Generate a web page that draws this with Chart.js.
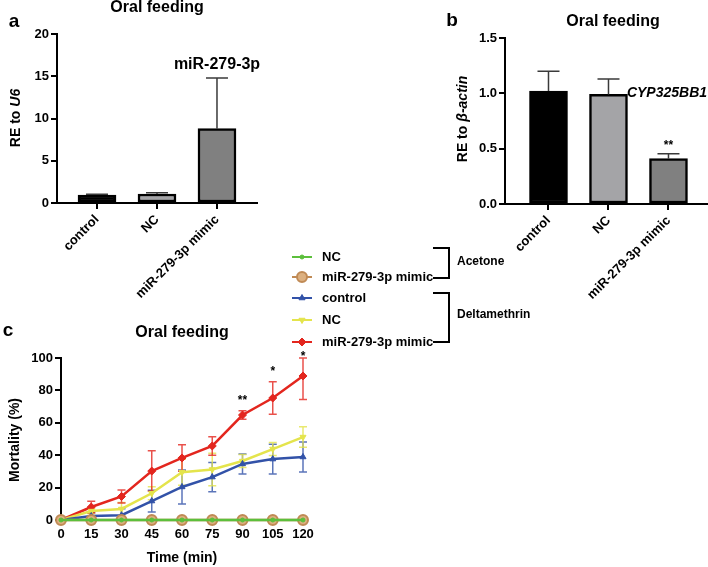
<!DOCTYPE html>
<html>
<head>
<meta charset="utf-8">
<script src="https://cdn.jsdelivr.net/npm/chart.js@4"></script>
<style>
  html, body { margin: 0; padding: 0; background: #fff; }
  #wrap { position: relative; width: 708px; height: 567px; }
  #wrap canvas { position: absolute; left: 0; top: 0; pointer-events: none; }
</style>
</head>
<body>
<div id="wrap">
  <canvas id="chartA" width="708" height="567"></canvas>
  <canvas id="chartB" width="708" height="567"></canvas>
  <canvas id="chartC" width="708" height="567"></canvas>
</div>
<script>
// ---- data ----
const groups = ['control', 'NC', 'miR-279-3p mimic'];
const barColors = ['#000000', '#a4a4a7', '#808080'];

// panel a: miR-279-3p, RE to U6
const valuesA = [0.95, 1.07, 8.8];
const errA = [0.1, 0.15, 6.0];

// panel b: CYP325BB1, RE to beta-actin
const valuesB = [1.02, 0.99, 0.41];
const errB = [0.18, 0.14, 0.045];
const sigB = ['', '', '**'];

// panel c: mortality over time
const times = [0, 15, 30, 45, 60, 75, 90, 105, 120];
const acetoneNC = [0, 0, 0, 0, 0, 0, 0, 0, 0];
const acetoneMimic = [0, 0, 0, 0, 0, 0, 0, 0, 0];
const deltaControl = [0, 2.5, 3, 11.7, 20.4, 26.5, 34.6, 37.6, 38.9];
const deltaControlErr = [0, 2, 4, 6.7, 10.5, 9, 6.2, 9.2, 9.3];
const deltaNC = [0, 5.5, 6.8, 16.5, 29.5, 31.2, 36.4, 43.8, 51.2];
const deltaNCErr = [0, 1.5, 4, 4, 8, 10, 4, 4, 6.3];
const deltaMimic = [0, 8, 14.5, 30.2, 38.3, 45.7, 64.8, 75.3, 88.9];
const deltaMimicErr = [0, 3.5, 4, 12.5, 8.2, 5.7, 2.6, 10, 14.5];
const sigTimes = [90, 105, 120];
const sigLabels = ['**', '*', '*'];
const sigLevel = [73.5, 91.4, 101];

const FONT = '"Liberation Sans", Arial, sans-serif';

// draw a line of text made of parts (some italic), centred at x,y, optionally rotated
function richText(ctx, parts, x, y, size, rot, align) {
  ctx.save();
  ctx.translate(x, y);
  if (rot) ctx.rotate(rot);
  ctx.textBaseline = 'middle';
  ctx.fillStyle = '#000';
  let total = 0;
  const widths = parts.map(p => {
    ctx.font = (p.italic ? 'italic ' : '') + 'bold ' + size + 'px ' + FONT;
    const w = ctx.measureText(p.t).width;
    total += w;
    return w;
  });
  let cx = align === 'left' ? 0 : -total / 2;
  parts.forEach((p, i) => {
    ctx.font = (p.italic ? 'italic ' : '') + 'bold ' + size + 'px ' + FONT;
    ctx.textAlign = 'left';
    ctx.fillText(p.t, cx, 0);
    cx += widths[i];
  });
  ctx.restore();
}

// texts plugin: options.plugins.texts = [{parts, x, y, size, rot, align}]
const textsPlugin = {
  id: 'texts',
  afterDraw(chart, args, opts) {
    (opts.items || []).forEach(it => {
      richText(chart.ctx, it.parts, it.x, it.y, it.size, it.rot || 0, it.align);
    });
  }
};

// upward error bars for bar charts
const barErrPlugin = {
  id: 'barErr',
  afterDatasetsDraw(chart, args, opts) {
    if (!opts.err) return;
    const ctx = chart.ctx;
    const ys = chart.scales.y;
    const meta = chart.getDatasetMeta(0);
    ctx.save();
    ctx.strokeStyle = '#3a3a3a';
    ctx.lineWidth = 1.5;
    meta.data.forEach((bar, i) => {
      const v = chart.data.datasets[0].data[i].y;
      const top = ys.getPixelForValue(v + opts.err[i]);
      ctx.beginPath();
      ctx.moveTo(bar.x, bar.y);
      ctx.lineTo(bar.x, top);
      ctx.moveTo(bar.x - 11, top);
      ctx.lineTo(bar.x + 11, top);
      ctx.stroke();
      if (opts.sig && opts.sig[i]) {
        ctx.fillStyle = '#000';
        ctx.font = 'bold 12px ' + FONT;
        ctx.textAlign = 'center';
        ctx.textBaseline = 'middle';
        ctx.fillText(opts.sig[i], bar.x, top - 8);
      }
    });
    ctx.restore();
  }
};

function barChart(id, values, err, sig, yMax, yStep, area, xMin, xMax, texts) {
  return new Chart(document.getElementById(id), {
    type: 'bar',
    plugins: [barErrPlugin, textsPlugin],
    data: {
      datasets: [{
        data: values.map((v, i) => ({ x: i, y: v })),
        backgroundColor: barColors,
        borderColor: '#000',
        borderWidth: 2.5,
        borderSkipped: false,
        barThickness: 38,
      }],
    },
    options: {
      responsive: false,
      animation: false,
      layout: { padding: area },
      scales: {
        x: {
          type: 'linear',
          min: xMin,
          max: xMax,
          offset: false,
          afterBuildTicks: s => { s.ticks = groups.map((g, i) => ({ value: i })); },
          afterFit: s => { s.height = 100; },
          grid: { drawOnChartArea: false, offset: false, color: '#000', lineWidth: 2, tickLength: 6 },
          border: { color: '#000', width: 2 },
          ticks: {
            autoSkip: false,
            minRotation: 45,
            maxRotation: 45,
            color: '#000',
            font: { family: FONT, size: 13, weight: 'bold' },
            callback: v => groups[v],
          },
        },
        y: {
          min: 0,
          max: yMax,
          afterFit: s => { s.width = area.yw; },
          grid: { drawOnChartArea: false, color: '#000', lineWidth: 2, tickLength: 6 },
          border: { color: '#000', width: 2 },
          ticks: {
            stepSize: yStep,
            color: '#000',
            padding: 2,
            font: { family: FONT, size: 13, weight: 'bold' },
            callback: v => yStep < 1 ? v.toFixed(1) : v,
          },
        },
      },
      plugins: {
        legend: { display: false },
        tooltip: { enabled: false },
        barErr: { err: err, sig: sig },
        texts: { items: texts },
      },
    },
  });
}

// panel a
barChart('chartA', valuesA, errA, null, 20, 5,
  { left: 0, top: 34, right: 708 - 257, bottom: 567 - 203 - 100, yw: 57 },
  -0.667, 2.667,
  [
    { parts: [{ t: 'a' }], x: 14, y: 22, size: 19 },
    { parts: [{ t: 'Oral feeding' }], x: 157, y: 8, size: 16 },
    { parts: [{ t: 'miR-279-3p' }], x: 217, y: 65, size: 16 },
    { parts: [{ t: 'RE to ' }, { t: 'U6', italic: true }], x: 16, y: 118, size: 14, rot: -Math.PI / 2 },
  ]);

// panel b
barChart('chartB', valuesB, errB, sigB, 1.5, 0.5,
  { left: 0, top: 38, right: 1, bottom: 567 - 204 - 100, yw: 505 },
  -0.725, 2.642,
  [
    { parts: [{ t: 'b' }], x: 452, y: 21, size: 19 },
    { parts: [{ t: 'Oral feeding' }], x: 613, y: 22, size: 16 },
    { parts: [{ t: 'CYP325BB1', italic: true }], x: 667, y: 93, size: 14 },
    { parts: [{ t: 'RE to ' }, { t: 'β-actin', italic: true }], x: 463, y: 119, size: 14, rot: -Math.PI / 2 },
  ]);

// panel c
const seriesC = [
  { label: 'NC', data: acetoneNC, err: null, color: '#5cbf3c', style: 'circle', r: 2, rot: 0, fill: '#5cbf3c' },
  { label: 'miR-279-3p mimic', data: acetoneMimic, err: null, color: '#c08a55', style: 'circle', r: 5, rot: 0, fill: '#dcb080' },
  { label: 'control', data: deltaControl, err: deltaControlErr, color: '#3252a8', style: 'triangle', r: 3.5, rot: 0, fill: '#3252a8' },
  { label: 'NC', data: deltaNC, err: deltaNCErr, color: '#e4e44c', style: 'triangle', r: 3.5, rot: 180, fill: '#e4e44c' },
  { label: 'miR-279-3p mimic', data: deltaMimic, err: deltaMimicErr, color: '#e3261e', style: 'rectRot', r: 4, rot: 0, fill: '#e3261e' },
];

const lineErrPlugin = {
  id: 'lineErr',
  beforeDatasetsDraw(chart) {
    const ctx = chart.ctx;
    const xs = chart.scales.x, ys = chart.scales.y;
    ctx.save();
    ctx.lineWidth = 1.5;
    seriesC.forEach(s => {
      if (!s.err) return;
      ctx.strokeStyle = s.color;
      ctx.globalAlpha = 0.8;
      times.forEach((t, i) => {
        if (!s.err[i]) return;
        const x = xs.getPixelForValue(t);
        const hi = ys.getPixelForValue(Math.min(s.data[i] + s.err[i], 100));
        const lo = ys.getPixelForValue(Math.max(s.data[i] - s.err[i], 0));
        ctx.beginPath();
        ctx.moveTo(x, lo); ctx.lineTo(x, hi);
        ctx.moveTo(x - 4, hi); ctx.lineTo(x + 4, hi);
        ctx.moveTo(x - 4, lo); ctx.lineTo(x + 4, lo);
        ctx.stroke();
      });
    });
    ctx.restore();
  },
  afterDraw(chart) {
    const ctx = chart.ctx;
    const xs = chart.scales.x, ys = chart.scales.y;
    ctx.save();
    ctx.fillStyle = '#000';
    ctx.font = 'bold 12px ' + FONT;
    ctx.textAlign = 'center';
    ctx.textBaseline = 'middle';
    sigTimes.forEach((t, i) => {
      ctx.fillText(sigLabels[i], xs.getPixelForValue(t), ys.getPixelForValue(sigLevel[i]));
    });
    // legend
    const legY = [257, 277, 298, 320, 342];
    seriesC.forEach((s, i) => {
      const y = legY[i];
      ctx.strokeStyle = s.color;
      ctx.lineWidth = 2;
      ctx.beginPath();
      ctx.moveTo(292, y); ctx.lineTo(312, y);
      ctx.stroke();
      ctx.fillStyle = s.fill;
      ctx.lineWidth = s.r > 4 ? 2 : 1;
      Chart.helpers.drawPoint(ctx, { pointStyle: s.style, radius: s.r, rotation: s.rot, borderWidth: ctx.lineWidth }, 302, y);
      ctx.fillStyle = '#000';
      ctx.font = 'bold 13px ' + FONT;
      ctx.textAlign = 'left';
      ctx.fillText(s.label, 322, y);
    });
    // brackets
    ctx.strokeStyle = '#000';
    ctx.lineWidth = 2;
    ctx.beginPath();
    ctx.moveTo(433, 248); ctx.lineTo(449, 248); ctx.lineTo(449, 278); ctx.lineTo(433, 278);
    ctx.moveTo(433, 293); ctx.lineTo(449, 293); ctx.lineTo(449, 342); ctx.lineTo(433, 342);
    ctx.stroke();
    ctx.font = 'bold 12px ' + FONT;
    ctx.fillText('Acetone', 457, 262);
    ctx.fillText('Deltamethrin', 457, 315);
    ctx.restore();
  }
};

new Chart(document.getElementById('chartC'), {
  type: 'line',
  plugins: [lineErrPlugin, textsPlugin],
  data: {
    datasets: seriesC.map((s, i) => ({
      label: s.label,
      data: times.map((t, j) => ({ x: t, y: s.data[j] })),
      borderColor: s.color,
      backgroundColor: s.fill,
      borderWidth: 2.5,
      pointStyle: s.style,
      pointRadius: s.r,
      pointRotation: s.rot,
      pointBorderColor: s.color,
      pointBackgroundColor: s.fill,
      pointBorderWidth: s.r > 4 ? 2 : 1,
      tension: 0,
      clip: false,
      order: i,
    })),
  },
  options: {
    responsive: false,
    animation: false,
    layout: { padding: { left: 0, top: 358, right: 708 - 303, bottom: 567 - 520 - 42 } },
    scales: {
      x: {
        type: 'linear',
        min: 0,
        max: 120,
        afterFit: s => { s.height = 42; },
        grid: { drawOnChartArea: false, color: '#000', lineWidth: 2, tickLength: 5 },
        border: { color: '#000', width: 2 },
        ticks: {
          stepSize: 15,
          color: '#000',
          padding: 2,
          font: { family: FONT, size: 13, weight: 'bold' },
        },
      },
      y: {
        min: 0,
        max: 100,
        afterFit: s => { s.width = 61; },
        grid: { drawOnChartArea: false, color: '#000', lineWidth: 2, tickLength: 6 },
        border: { color: '#000', width: 2 },
        ticks: {
          stepSize: 20,
          color: '#000',
          padding: 2,
          font: { family: FONT, size: 13, weight: 'bold' },
        },
      },
    },
    plugins: {
      legend: { display: false },
      tooltip: { enabled: false },
      texts: {
        items: [
          { parts: [{ t: 'c' }], x: 8, y: 331, size: 19 },
          { parts: [{ t: 'Oral feeding' }], x: 182, y: 333, size: 16 },
          { parts: [{ t: 'Mortality (%)' }], x: 15, y: 440, size: 14, rot: -Math.PI / 2 },
          { parts: [{ t: 'Time (min)' }], x: 182, y: 558, size: 14 },
        ],
      },
    },
  },
});
</script>
</body>
</html>
